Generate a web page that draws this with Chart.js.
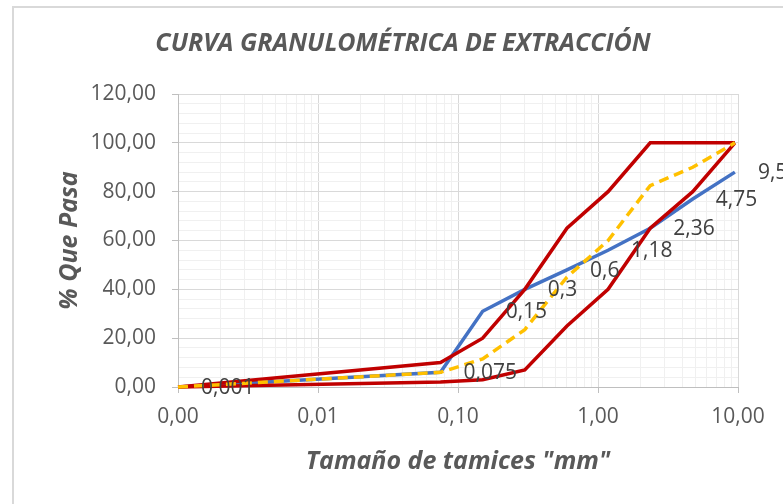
<!DOCTYPE html>
<html>
<head>
<meta charset="utf-8">
<script src="https://cdn.jsdelivr.net/npm/chart.js@4/dist/chart.umd.min.js"></script>
<style>
  html, body { margin: 0; padding: 0; background: #fff; overflow: hidden; }
  #wrap { position: relative; width: 783px; height: 504px; overflow: hidden; }
  #frame { position: absolute; left: 12px; top: 6px; width: 900px; height: 600px; border: 2px solid #d9d9d9; }
  canvas { position: absolute; left: 0; top: 0; }
</style>
</head>
<body>
<div id="wrap">
  <div id="frame"></div>
  <canvas id="chart" width="783" height="504"></canvas>
</div>
<script>
// tamices (mm) y % que pasa
const sizes = [0.001, 0.075, 0.15, 0.3, 0.6, 1.18, 2.36, 4.75, 9.5];
const sizeLabels = ['0,001', '0,075', '0,15', '0,3', '0,6', '1,18', '2,36', '4,75', '9,5'];
const passing = [0, 6, 31, 40, 48, 56, 65, 77, 88];
const upperLimit = [0, 10, 20, 40, 65, 80, 100, 100, 100];
const lowerLimit = [0, 2, 3, 7, 25, 40, 65, 80, 100];
const midCurve = [0, 6, 11.5, 23.5, 45, 60, 82.5, 90, 100];
const xTickValues = [0.001, 0.01, 0.1, 1, 10];

const FONT = "'Open Sans', sans-serif";
const ctx = document.getElementById('chart').getContext('2d');


function toPoints(values) {
  return sizes.map((s, i) => ({ x: s, y: values[i] }));
}

function isPow10(v) {
  const l = Math.log10(v);
  return Math.abs(l - Math.round(l)) < 1e-6;
}

function fmt(v) {
  return v.toFixed(2).replace('.', ',');
}


// etiquetas de los tamices junto a la curva azul
const pointLabels = {
  id: 'pointLabels',
  afterDatasetsDraw(chart) {
    const meta = chart.getDatasetMeta(3);
    const c = chart.ctx;
    c.save();
    c.font = '21px ' + FONT;
    c.fillStyle = '#404040';
    c.textAlign = 'left';
    c.textBaseline = 'middle';
    meta.data.forEach((pt, i) => {
      c.fillText(sizeLabels[i], pt.x + 23, pt.y + 1);
    });
    c.restore();
  }
};

const chartTitle = {
  id: 'chartTitle',
  afterDraw(chart) {
    const c = chart.ctx;
    c.save();
    c.font = 'italic bold 25px ' + FONT;
    c.fillStyle = '#595959';
    c.textAlign = 'center';
    c.textBaseline = 'middle';
    c.fillText('CURVA GRANULOMÉTRICA DE EXTRACCIÓN', 403, 44);
    c.restore();
  }
};


const chart = new Chart(ctx, {
  type: 'line',
  data: {
    datasets: [
      {
        label: 'Media',
        data: toPoints(midCurve),
        borderColor: '#FFC000',
        borderWidth: 3.5,
        borderDash: [10, 6],
        order: 1
      },
      {
        label: 'Límite superior',
        data: toPoints(upperLimit),
        borderColor: '#C00000',
        borderWidth: 3.5,
        order: 2
      },
      {
        label: 'Límite inferior',
        data: toPoints(lowerLimit),
        borderColor: '#C00000',
        borderWidth: 3.5,
        order: 3
      },
      {
        label: 'Muestra',
        data: toPoints(passing),
        borderColor: '#4472C4',
        borderWidth: 3.5,
        order: 4
      }
    ]
  },
  options: {
    responsive: false,
    animation: false,
    clip: false,
    elements: {
      point: { radius: 0 },
      line: { tension: 0 }
    },
    layout: {
      padding: { top: 94, right: 45, left: 0, bottom: 0 }
    },
    scales: {
      x: {
        type: 'logarithmic',
        min: 0.001,
        max: 10,
        afterBuildTicks(scale) {
          const ticks = [];
          for (let e = -3; e < 1; e++) {
            for (let m = 1; m < 10; m++) {
              ticks.push({ value: Number((m * Math.pow(10, e)).toPrecision(3)) });
            }
          }
          ticks.push({ value: 10 });
          scale.ticks = ticks;
        },
        afterFit(scale) { scale.height = 117; },
        ticks: {
          autoSkip: false,
          maxRotation: 0,
          padding: 11,
          color: '#595959',
          font: { family: FONT, size: 21 },
          callback: (v) => (xTickValues.some(t => Math.abs(t - v) < 1e-9) ? fmt(v) : '')
        },
        grid: {
          color: (c) => (c.tick && isPow10(c.tick.value) ? '#d9d9d9' : '#f0f0f0'),
          tickColor: (c) => (c.tick && isPow10(c.tick.value) ? '#bfbfbf' : 'rgba(0,0,0,0)'),
          tickLength: 6,
          lineWidth: 1
        },
        border: { color: '#bfbfbf', width: 1 },
        title: {
          display: true,
          text: 'Tamaño de tamices "mm"',
          color: '#595959',
          font: { family: FONT, size: 25, weight: 'bold', style: 'italic' },
          padding: { top: 0, bottom: 27 }
        }
      },
      y: {
        min: 0,
        max: 120,
        afterFit(scale) { scale.width = 178; },
        ticks: {
          stepSize: 4,
          autoSkip: false,
          padding: 16,
          color: '#595959',
          font: { family: FONT, size: 21 },
          callback: (v) => (v % 20 === 0 ? fmt(v) : '')
        },
        grid: {
          color: (c) => (c.tick && c.tick.value % 20 === 0 ? '#d9d9d9' : '#f0f0f0'),
          tickColor: (c) => (c.tick && c.tick.value % 20 === 0 ? '#bfbfbf' : 'rgba(0,0,0,0)'),
          tickLength: 6,
          lineWidth: 1
        },
        border: { color: '#bfbfbf', width: 1 },
        title: {
          display: true,
          text: '% Que Pasa',
          color: '#595959',
          font: { family: FONT, size: 25, weight: 'bold', style: 'italic' },
          padding: { top: 55, bottom: 0 }
        }
      }
    },
    plugins: {
      legend: { display: false },
      title: { display: false },
      tooltip: { enabled: false }
    }
  },
  plugins: [pointLabels, chartTitle]
});
</script>
</body>
</html>
